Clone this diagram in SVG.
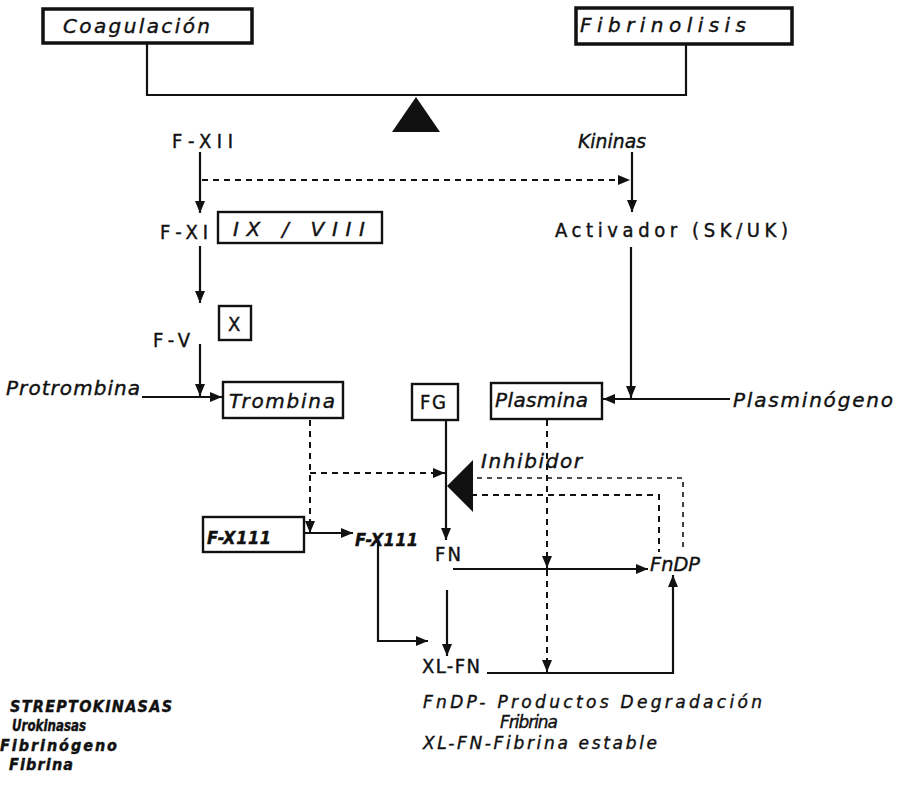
<svg xmlns="http://www.w3.org/2000/svg" width="907" height="787" viewBox="0 0 907 787">
<style>
  .box{fill:#fff;stroke:#111;stroke-width:2.4}
  .tbox{fill:#fff;stroke:#111;stroke-width:3.5}
  .ln{fill:none;stroke:#111;stroke-width:2.2}
  .ds{fill:none;stroke:#111;stroke-width:2;stroke-dasharray:6 5}
  .dt{fill:none;stroke:#111;stroke-width:1.6;stroke-dasharray:5 5}
  text{fill:#111;stroke:#111;stroke-width:0.4}
  .cur{font-family:"DejaVu Sans","Liberation Sans",sans-serif;font-style:italic;font-size:20px}
  .leg{font-family:"DejaVu Sans","Liberation Sans",sans-serif;font-style:italic;font-size:17px}
  .typ{font-family:"DejaVu Sans Condensed","DejaVu Sans","Liberation Sans",sans-serif;font-size:20px}
  .bld{font-family:"DejaVu Sans Condensed","DejaVu Sans","Liberation Sans",sans-serif;font-style:italic;font-weight:bold;font-size:18px}
  .lg{font-family:"DejaVu Sans Condensed","DejaVu Sans","Liberation Sans",sans-serif;font-style:italic;font-weight:bold;font-size:16px}
</style>
<defs>
  <marker id="ah" viewBox="0 0 12 10" refX="12" refY="5" markerWidth="12" markerHeight="10" markerUnits="userSpaceOnUse" orient="auto">
    <path d="M0,0 L12,5 L0,10 z" fill="#111"/>
  </marker>
</defs>

<g id="connectors">
  <path class="ln" d="M147 43 V95 H686 V45"/>
  <path class="ln" d="M200 152 V213" marker-end="url(#ah)"/>
  <path class="ds" d="M202 180 H630" marker-end="url(#ah)"/>
  <path class="ln" d="M632 152 V212" marker-end="url(#ah)"/>
  <path class="ln" d="M200 246 V303" marker-end="url(#ah)"/>
  <path class="ln" d="M200 344 V396" marker-end="url(#ah)"/>
  <path class="ln" d="M142 397 H222" marker-end="url(#ah)"/>
  <path class="ln" d="M631 247 V398" marker-end="url(#ah)"/>
  <path class="ln" d="M730 399 H603" marker-end="url(#ah)"/>
  <path class="ds" d="M310 420 V533" marker-end="url(#ah)"/>
  <path class="ds" d="M310 473 H445" marker-end="url(#ah)"/>
  <path class="ln" d="M305 533 H353" marker-end="url(#ah)"/>
  <path class="ln" d="M446 420 V540" marker-end="url(#ah)"/>
  <path class="ln" d="M447 590 V656" marker-end="url(#ah)"/>
  <path class="ln" d="M453 569 H648" marker-end="url(#ah)"/>
  <path class="ln" d="M378 540 V641 H428" marker-end="url(#ah)"/>
  <path class="ds" d="M547 420 V568" marker-end="url(#ah)"/>
  <path class="ds" d="M547 570 V672" marker-end="url(#ah)"/>
  <path class="ln" d="M487 673 H673 V575" marker-end="url(#ah)"/>
  <path class="dt" d="M477 478 H683 V552"/>
  <path class="ds" d="M460 495 H659 V552"/>
</g>

<g id="coagulacion">
  <rect class="tbox" x="43" y="9" width="209" height="34"/>
  <text class="cur" x="63" y="33" textLength="147" lengthAdjust="spacing">Coagulación</text>
</g>
<g id="fibrinolisis">
  <rect class="tbox" x="576" y="8" width="216" height="36"/>
  <text class="cur" x="580" y="32" textLength="166" lengthAdjust="spacing">Fibrinolisis</text>
</g>
<g id="fulcrum">
  <polygon points="416,97 392,132 440,132" fill="#111"/>
</g>
<g id="fxii"><text class="typ" x="172" y="148" textLength="61" lengthAdjust="spacing">F-XII</text></g>
<g id="kininas"><text class="cur" x="578" y="148" textLength="68" lengthAdjust="spacingAndGlyphs">Kininas</text></g>
<g id="fxi"><text class="typ" x="160" y="239" textLength="48" lengthAdjust="spacing">F-XI</text></g>
<g id="ix-viii">
  <rect class="box" x="218" y="212" width="164" height="31"/>
  <text class="cur" x="233" y="236" textLength="132" lengthAdjust="spacing">IX / VIII</text>
</g>
<g id="activador"><text class="typ" x="555" y="237" textLength="233" lengthAdjust="spacing">Activador (SK/UK)</text></g>
<g id="fv"><text class="typ" x="153" y="347" textLength="37" lengthAdjust="spacing">F-V</text></g>
<g id="x">
  <rect class="box" x="219" y="306" width="32" height="34"/>
  <text class="typ" x="228" y="331">X</text>
</g>
<g id="protrombina"><text class="cur" x="6" y="395" textLength="134" lengthAdjust="spacing">Protrombina</text></g>
<g id="trombina">
  <rect class="box" x="223" y="382" width="120" height="36"/>
  <text class="cur" x="229" y="408" textLength="106" lengthAdjust="spacing">Trombina</text>
</g>
<g id="fg">
  <rect class="box" x="412" y="384" width="46" height="36"/>
  <text class="typ" x="420" y="409" textLength="26" lengthAdjust="spacing">FG</text>
</g>
<g id="plasmina">
  <rect class="box" x="491" y="383" width="111" height="36"/>
  <text class="cur" x="495" y="407" textLength="93" lengthAdjust="spacing">Plasmina</text>
</g>
<g id="plasminogeno"><text class="cur" x="733" y="407" textLength="160" lengthAdjust="spacing">Plasminógeno</text></g>
<g id="inhibidor">
  <polygon points="447,486 473,460 473,512" fill="#111"/>
  <text class="cur" x="481" y="468" textLength="101" lengthAdjust="spacing">Inhibidor</text>
</g>
<g id="fxiii-box">
  <rect class="box" x="203" y="517" width="101" height="35"/>
  <text class="bld" x="207" y="544" textLength="64" lengthAdjust="spacing">F-X111</text>
</g>
<g id="fxiii"><text class="bld" x="355" y="546" textLength="63" lengthAdjust="spacing">F-X111</text></g>
<g id="fn"><text class="typ" x="435" y="561" textLength="26" lengthAdjust="spacing">FN</text></g>
<g id="fndp"><text class="cur" x="650" y="571" textLength="50" lengthAdjust="spacingAndGlyphs">FnDP</text></g>
<g id="xlfn"><text class="typ" x="422" y="673" textLength="58" lengthAdjust="spacing">XL-FN</text></g>

<g id="legend-right">
  <text class="leg" x="423" y="708" textLength="339" lengthAdjust="spacing">FnDP- Productos Degradación</text>
  <text class="leg" x="500" y="728" textLength="58" lengthAdjust="spacing">Fribrina</text>
  <text class="leg" x="423" y="749" textLength="234" lengthAdjust="spacing">XL-FN-Fibrina estable</text>
</g>
<g id="legend-left">
  <text class="lg" x="10" y="712" textLength="162" lengthAdjust="spacing">STREPTOKINASAS</text>
  <text class="lg" x="12" y="731" textLength="74" lengthAdjust="spacingAndGlyphs">Urokinasas</text>
  <text class="lg" x="0" y="751" textLength="117" lengthAdjust="spacing">Fibrinógeno</text>
  <text class="lg" x="9" y="770" textLength="64" lengthAdjust="spacing">Fibrina</text>
</g>
</svg>
